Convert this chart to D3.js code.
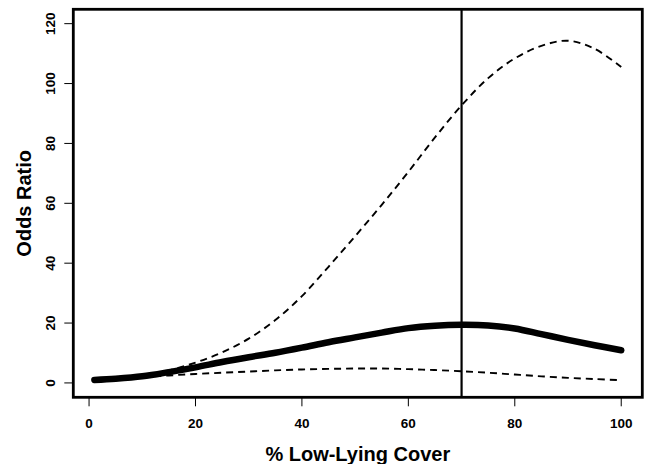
<!DOCTYPE html>
<html>
<head>
<meta charset="utf-8">
<script src="https://cdn.jsdelivr.net/npm/d3@7"></script>
<style>
  body { margin: 0; background: #fff; }
  text { font-family: "Liberation Sans", Arial, sans-serif; font-weight: bold; fill: #000; }
</style>
</head>
<body>
<div id="chart"></div>
<script>
// % low-lying cover and the fitted odds ratio with its confidence band
const cover = [1, 5, 10, 15, 20, 25, 30, 35, 40, 45, 50, 55, 60, 65, 70, 75, 80, 85, 90, 95, 100];
const oddsRatio = [1.0, 1.4, 2.2, 3.6, 5.2, 7.0, 8.6, 10.1, 11.8, 13.6, 15.2, 16.8, 18.3, 19.1, 19.4, 19.2, 18.2, 16.3, 14.4, 12.6, 10.9];
const upperCI = [1.1, 1.6, 2.6, 4.2, 6.8, 10.2, 14.8, 21.0, 29.0, 38.8, 49.0, 59.5, 70.5, 82.0, 92.7, 101.8, 108.4, 112.6, 114.3, 111.6, 105.5];
const lowerCI = [0.9, 1.3, 1.9, 2.5, 3.0, 3.4, 3.8, 4.2, 4.5, 4.7, 4.8, 4.8, 4.6, 4.3, 3.9, 3.4, 2.8, 2.2, 1.7, 1.3, 0.9];
const threshold = 70;
const xTicks = [0, 20, 40, 60, 80, 100];
const yTicks = [0, 20, 40, 60, 80, 100, 120];

const width = 646, height = 464;
const box = {left: 73.3, right: 642.3, top: 9.3, bottom: 397.3};

const svg = d3.select('#chart').append('svg')
  .attr('width', width)
  .attr('height', height);

// R-style 4% padding around the data range
const x = d3.scaleLinear().domain([1 - 3.96, 100 + 3.96]).range([box.left, box.right]);
const y = d3.scaleLinear().domain([-4.8, 124.8]).range([box.bottom, box.top]);

const line = d3.line()
  .x((d, i) => x(cover[i]))
  .y(d => y(d))
  .curve(d3.curveCatmullRom.alpha(0.5));

const plot = svg.append('g');

plot.append('path')
  .datum(upperCI)
  .attr('d', line)
  .attr('fill', 'none')
  .attr('stroke', '#000')
  .attr('stroke-width', 1.9)
  .attr('stroke-dasharray', '7,5');

plot.append('path')
  .datum(lowerCI)
  .attr('d', line)
  .attr('fill', 'none')
  .attr('stroke', '#000')
  .attr('stroke-width', 1.9)
  .attr('stroke-dasharray', '7,5');

plot.append('path')
  .datum(oddsRatio)
  .attr('d', line)
  .attr('fill', 'none')
  .attr('stroke', '#000')
  .attr('stroke-width', 6.5)
  .attr('stroke-linecap', 'round');

// threshold line
plot.append('line')
  .attr('x1', x(threshold)).attr('x2', x(threshold))
  .attr('y1', box.top).attr('y2', box.bottom)
  .attr('stroke', '#000')
  .attr('stroke-width', 2.2);

// frame
svg.append('rect')
  .attr('x', box.left).attr('y', box.top)
  .attr('width', box.right - box.left)
  .attr('height', box.bottom - box.top)
  .attr('fill', 'none')
  .attr('stroke', '#000')
  .attr('stroke-width', 2.8);

// x axis (ticks + labels only, the frame is the axis line)
const xAxis = svg.append('g');
xAxis.selectAll('line')
  .data(xTicks)
  .join('line')
  .attr('x1', d => x(d)).attr('x2', d => x(d))
  .attr('y1', box.bottom).attr('y2', box.bottom + 9)
  .attr('stroke', '#000')
  .attr('stroke-width', 1);
xAxis.selectAll('text')
  .data(xTicks)
  .join('text')
  .attr('x', d => x(d))
  .attr('y', 428)
  .attr('text-anchor', 'middle')
  .style('font-size', '13.5px')
  .text(d => d);

// y axis
const yAxis = svg.append('g');
yAxis.selectAll('line')
  .data(yTicks)
  .join('line')
  .attr('x1', box.left - 9).attr('x2', box.left)
  .attr('y1', d => y(d)).attr('y2', d => y(d))
  .attr('stroke', '#000')
  .attr('stroke-width', 1);
yAxis.selectAll('text')
  .data(yTicks)
  .join('text')
  .attr('transform', d => `translate(55,${y(d)}) rotate(-90)`)
  .attr('text-anchor', 'middle')
  .style('font-size', '13.5px')
  .text(d => d);

// axis titles
svg.append('text')
  .attr('x', (box.left + box.right) / 2)
  .attr('y', 461)
  .attr('text-anchor', 'middle')
  .style('font-size', '20px')
  .text('% Low-Lying Cover');

svg.append('text')
  .attr('transform', `translate(31,${(box.top + box.bottom) / 2}) rotate(-90)`)
  .attr('text-anchor', 'middle')
  .style('font-size', '20px')
  .text('Odds Ratio');
</script>
</body>
</html>
